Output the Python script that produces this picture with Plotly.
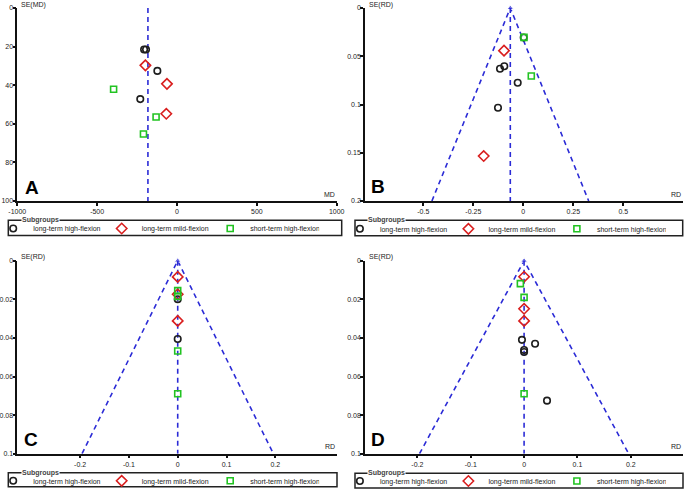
import plotly.graph_objects as go

# ---------------- data ----------------
series_names = ["long-term high-flexion", "long-term mild-flexion", "short-term high-flexion"]

# Panel A: MD vs SE(MD)
A_high_md = [-206, -194, -123, -230]
A_high_se = [21.5, 21.5, 32.6, 47.2]
A_mild_md = [-198, -63, -67]
A_mild_se = [29.7, 39.3, 54.8]
A_short_md = [-397, -131, -210]
A_short_se = [42.1, 56.5, 65.3]
A_pooled_x = [-182, -182]
A_pooled_y = [0, 100]

# Panel B: RD vs SE(RD)
B_high_rd = [0.002, -0.1165, -0.095, -0.028, -0.1265]
B_high_se = [0.0305, 0.0629, 0.0604, 0.0774, 0.1033]
B_mild_rd = [-0.0965, -0.198]
B_mild_se = [0.0442, 0.1534]
B_short_rd = [0.0035, 0.040]
B_short_se = [0.0304, 0.0705]
B_funnel_x = [-0.457, -0.065, 0.327]
B_funnel_y = [0.2, 0, 0.2]
B_pooled_x = [-0.065, -0.065]
B_pooled_y = [0, 0.2]

# Panel C: RD vs SE(RD)
C_high_rd = [0, 0]
C_high_se = [0.0200, 0.0406]
C_mild_rd = [0, 0, 0]
C_mild_se = [0.0084, 0.0174, 0.0312]
C_short_rd = [0, 0, 0, 0]
C_short_se = [0.0155, 0.0185, 0.0468, 0.0689]
C_funnel_x = [-0.196, 0, 0.196]
C_funnel_y = [0.1, 0, 0.1]
C_pooled_x = [0, 0]
C_pooled_y = [0, 0.1]

# Panel D: RD vs SE(RD)
D_high_rd = [-0.004, 0.0206, 0, 0, 0.043]
D_high_se = [0.0410, 0.0430, 0.0463, 0.0473, 0.0725]
D_mild_rd = [0, 0, 0]
D_mild_se = [0.0083, 0.0249, 0.0312]
D_short_rd = [-0.007, 0, 0]
D_short_se = [0.0119, 0.0190, 0.0689]
D_funnel_x = [-0.196, 0, 0.196]
D_funnel_y = [0.1, 0, 0.1]
D_pooled_x = [0, 0]
D_pooled_y = [0, 0.1]

A_xticks = [-1000, -500, 0, 500, 1000]
A_xticktext = ["-1000", "-500", "0", "500", "1000"]
A_yticks = [0, 20, 40, 60, 80, 100]
A_yticktext = ["0", "20", "40", "60", "80", "100"]
B_xticks = [-0.5, -0.25, 0, 0.25, 0.5]
B_xticktext = ["-0.5", "-0.25", "0", "0.25", "0.5"]
B_yticks = [0, 0.05, 0.1, 0.15, 0.2]
B_yticktext = ["0", "0.05", "0.1", "0.15", "0.2"]
CD_xticks = [-0.2, -0.1, 0, 0.1, 0.2]
CD_xticktext = ["-0.2", "-0.1", "0", "0.1", "0.2"]
CD_yticks = [0, 0.02, 0.04, 0.06, 0.08, 0.1]
CD_yticktext = ["0", "0.02", "0.04", "0.06", "0.08", "0.1"]

# ---------------- styling ----------------
W, H = 685, 490
FONT = "Liberation Sans, Arial, sans-serif"
BLUE = "#2b2bd6"
COLORS = ["#1e1e1e", "#d91e1e", "#22c322"]
SYMBOLS = ["circle-open", "diamond-open", "square-open"]
SIZES = [6.5, 8, 6]
TXT = 7


def fx(p):
    return p / W


def fy(p):
    return 1 - p / H


panels = [
    dict(sfx="", letter="A", xdom=(17.3, 336.7), ydom=(8, 201), xr=[-1000, 1000], yr=[100, 0],
         xt=(A_xticks, A_xticktext), yt=(A_yticks, A_yticktext), xl="MD", yl="SE(MD)",
         series=[(A_high_md, A_high_se), (A_mild_md, A_mild_se), (A_short_md, A_short_se)],
         funnel=None, pooled=(A_pooled_x, A_pooled_y),
         box=(8.3, 341.7, 220.3, 235.5), legy=228.5, letterpos=(32, 187)),
    dict(sfx="2", letter="B", xdom=(365, 682.7), ydom=(8, 201), xr=[-0.7915, 0.797], yr=[0.2, 0],
         xt=(B_xticks, B_xticktext), yt=(B_yticks, B_yticktext), xl="RD", yl="SE(RD)",
         series=[(B_high_rd, B_high_se), (B_mild_rd, B_mild_se), (B_short_rd, B_short_se)],
         funnel=(B_funnel_x, B_funnel_y), pooled=(B_pooled_x, B_pooled_y),
         box=(355, 682.7, 220.3, 235.7), legy=228.8, letterpos=(378, 186)),
    dict(sfx="3", letter="C", xdom=(17.3, 336.7), ydom=(260.7, 453.7), xr=[-0.3287, 0.3258], yr=[0.1, 0],
         xt=(CD_xticks, CD_xticktext), yt=(CD_yticks, CD_yticktext), xl="RD", yl="SE(RD)",
         series=[(C_high_rd, C_high_se), (C_mild_rd, C_mild_se), (C_short_rd, C_short_se)],
         funnel=(C_funnel_x, C_funnel_y), pooled=(C_pooled_x, C_pooled_y),
         box=(8.3, 337, 472.7, 486.7), legy=480.8, letterpos=(31, 439)),
    dict(sfx="4", letter="D", xdom=(365, 682.7), ydom=(260.7, 453.7), xr=[-0.2982, 0.2973], yr=[0.1, 0],
         xt=(CD_xticks, CD_xticktext), yt=(CD_yticks, CD_yticktext), xl="RD", yl="SE(RD)",
         series=[(D_high_rd, D_high_se), (D_mild_rd, D_mild_se), (D_short_rd, D_short_se)],
         funnel=(D_funnel_x, D_funnel_y), pooled=(D_pooled_x, D_pooled_y),
         box=(355, 683, 473.3, 488), legy=481.0, letterpos=(378, 439)),
]

fig = go.Figure()
layout = dict(
    width=W, height=H, margin=dict(l=0, r=0, t=0, b=0, autoexpand=False),
    paper_bgcolor="white", plot_bgcolor="white",
    font=dict(family=FONT, size=TXT, color="#222"),
    shapes=[], annotations=[],
)

for i, p in enumerate(panels):
    xa = "x" + p["sfx"]
    ya = "y" + p["sfx"]
    leg = "legend" + p["sfx"]
    line_style = dict(color=BLUE, width=1.6, dash="5px,4px")
    if p["funnel"] is not None:
        fig.add_trace(go.Scatter(x=p["funnel"][0], y=p["funnel"][1], mode="lines+markers",
                                 line=line_style,
                                 marker=dict(size=[0, 6, 0], symbol="triangle-up", color=BLUE),
                                 xaxis=xa, yaxis=ya, showlegend=False, hoverinfo="skip",
                                 cliponaxis=False))
    fig.add_trace(go.Scatter(x=p["pooled"][0], y=p["pooled"][1], mode="lines", line=line_style,
                             xaxis=xa, yaxis=ya, showlegend=False, hoverinfo="skip"))
    for k, (xs, ys) in enumerate(p["series"]):
        fig.add_trace(go.Scatter(
            x=xs, y=ys, mode="markers", name=series_names[k], legend=leg,
            marker=dict(symbol=SYMBOLS[k], size=SIZES[k], color=COLORS[k],
                        line=dict(width=1.6, color=COLORS[k])),
            xaxis=xa, yaxis=ya, cliponaxis=False))

    axis_common = dict(showgrid=False, zeroline=False, showline=True, linecolor="#111",
                       linewidth=1.5, ticks="outside", ticklen=3, tickwidth=1.5,
                       tickcolor="#111", tickfont=dict(family=FONT, size=TXT, color="#222"))
    layout["xaxis" + p["sfx"]] = dict(
        domain=[fx(p["xdom"][0]), fx(p["xdom"][1])], range=p["xr"], anchor=ya,
        tickmode="array", tickvals=p["xt"][0], ticktext=p["xt"][1], **axis_common)
    layout["yaxis" + p["sfx"]] = dict(
        domain=[fy(p["ydom"][1]), fy(p["ydom"][0])], range=p["yr"], anchor=xa,
        tickmode="array", tickvals=p["yt"][0], ticktext=p["yt"][1],
        ticklabelstandoff=-2, **axis_common)

    # axis titles
    layout["annotations"].append(dict(
        text=p["yl"], xref="paper", yref="paper", x=fx(p["xdom"][0] + 1.5), y=fy(p["ydom"][0] - 3.5),
        xanchor="left", yanchor="middle", showarrow=False, font=dict(size=TXT, color="#222")))
    layout["annotations"].append(dict(
        text=p["xl"], xref="paper", yref="paper", x=fx(p["xdom"][1]), y=fy(p["ydom"][1] - 1.5),
        xanchor="right", yanchor="bottom", showarrow=False, font=dict(size=TXT, color="#222")))
    # panel letter
    layout["annotations"].append(dict(
        text="<b>" + p["letter"] + "</b>", xref="paper", yref="paper",
        x=fx(p["letterpos"][0]), y=fy(p["letterpos"][1]), xanchor="center", yanchor="middle",
        showarrow=False, font=dict(size=19, color="black")))

    # legend frame
    bx0, bx1, by0, by1 = p["box"]
    layout["shapes"].append(dict(type="rect", xref="paper", yref="paper",
                                 x0=fx(bx0), x1=fx(bx1), y0=fy(by1), y1=fy(by0),
                                 line=dict(color="#222", width=1.5), fillcolor="rgba(0,0,0,0)"))
    layout["annotations"].append(dict(
        text="<b>Subgroups</b>", xref="paper", yref="paper", x=fx(bx0 + 12.5), y=fy(by0),
        xanchor="left", yanchor="middle", showarrow=False, bgcolor="white", borderpad=0,
        font=dict(size=7, color="#444")))
    layout[leg] = dict(
        orientation="h", x=fx(bx0 - 15.1), xanchor="left", y=fy(p["legy"]), yanchor="middle",
        bgcolor="rgba(0,0,0,0)", borderwidth=0, font=dict(size=7, color="#222"),
        entrywidth=63.5, entrywidthmode="pixels", itemsizing="trace", tracegroupgap=0)

fig.update_layout(**layout)
fig.write_html("out.html", config={"displayModeBar": False},
               post_script="document.body.style.margin='0px';")
